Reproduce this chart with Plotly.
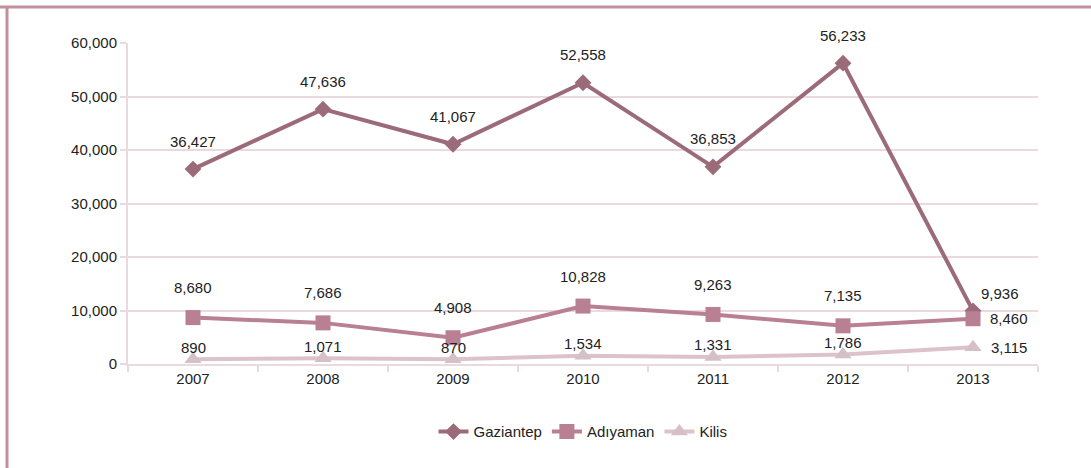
import plotly.graph_objects as go

years = ["2007", "2008", "2009", "2010", "2011", "2012", "2013"]
gaziantep = [36427, 47636, 41067, 52558, 36853, 56233, 9936]
adiyaman = [8680, 7686, 4908, 10828, 9263, 7135, 8460]
kilis = [890, 1071, 870, 1534, 1331, 1786, 3115]

FONT = "Liberation Sans Narrow, Arial Narrow, Liberation Sans, sans-serif"
GRID = "#ead9de"
TXT = "#222222"
FS = 15

pos = list(range(len(years)))

series = [
    ("Gaziantep", gaziantep, "#9b6b79", "diamond", 13, "#9b6b79"),
    ("Adıyaman", adiyaman, "#b98093", "square", 15, "#b98093"),
    ("Kilis", kilis, "#dcc3cb", "triangle-up", 15, "#d6c0c7"),
]

fig = go.Figure()
for name, vals, color, sym, size, mfill in series:
    fig.add_trace(go.Scatter(
        x=pos, y=vals, name=name, mode="lines+markers",
        line=dict(color=color, width=4),
        marker=dict(symbol=sym, size=size, color=mfill, line=dict(width=0)),
    ))

# value labels: (series values, yshift, xshift for last point, yshift for last point)
label_cfg = [
    (gaziantep, 28, 27, 17),
    (adiyaman, 30, 36, 0),
    (kilis, 12, 36, 0),
]
for vals, ys, last_xs, last_ys in label_cfg:
    for i, v in zip(pos, vals):
        last = i == pos[-1]
        fig.add_annotation(
            x=i, y=v, text=f"{v:,}", showarrow=False,
            xshift=last_xs if last else 0,
            yshift=last_ys if last else ys,
            font=dict(family=FONT, size=FS, color=TXT),
        )

boundaries = [p - 0.5 for p in pos] + [pos[-1] + 0.5]

fig.update_layout(
    width=1091, height=468,
    paper_bgcolor="white", plot_bgcolor="white",
    margin=dict(l=128, r=53, t=43, b=104),
    font=dict(family=FONT, size=FS, color=TXT),
    showlegend=True,
    legend=dict(orientation="h", x=0.5, xanchor="center", y=-0.16, yanchor="top",
                font=dict(family=FONT, size=FS, color=TXT)),
    xaxis=dict(
        range=[-0.5, len(years) - 0.5], tickvals=pos, ticktext=years, ticks="",
        showgrid=False, zeroline=False, showline=True, linecolor=GRID, linewidth=2,
        tickfont=dict(family=FONT, size=FS, color=TXT),
        minor=dict(tickvals=boundaries, ticks="outside", ticklen=6, tickcolor=GRID,
                   tickwidth=2, showgrid=False),
    ),
    yaxis=dict(
        range=[0, 60000], dtick=10000, tickformat=",", showgrid=True, gridcolor=GRID,
        gridwidth=2, showline=True, linecolor=GRID, linewidth=2, ticks="outside",
        ticklen=6, tickcolor=GRID, tickwidth=2, zeroline=False,
        tickfont=dict(family=FONT, size=FS, color=TXT),
    ),
    shapes=[
        dict(type="line", xref="paper", yref="paper", x0=-128 / 910, x1=1.06,
             y0=1 + 36 / 321, y1=1 + 36 / 321, line=dict(color="#c0909e", width=3)),
        dict(type="line", xref="paper", yref="paper", x0=-121 / 910, x1=-121 / 910,
             y0=1 + 37 / 321, y1=-104 / 321 - 0.01, line=dict(color="#c0909e", width=3)),
    ],
)

fig.write_html("out.html")
